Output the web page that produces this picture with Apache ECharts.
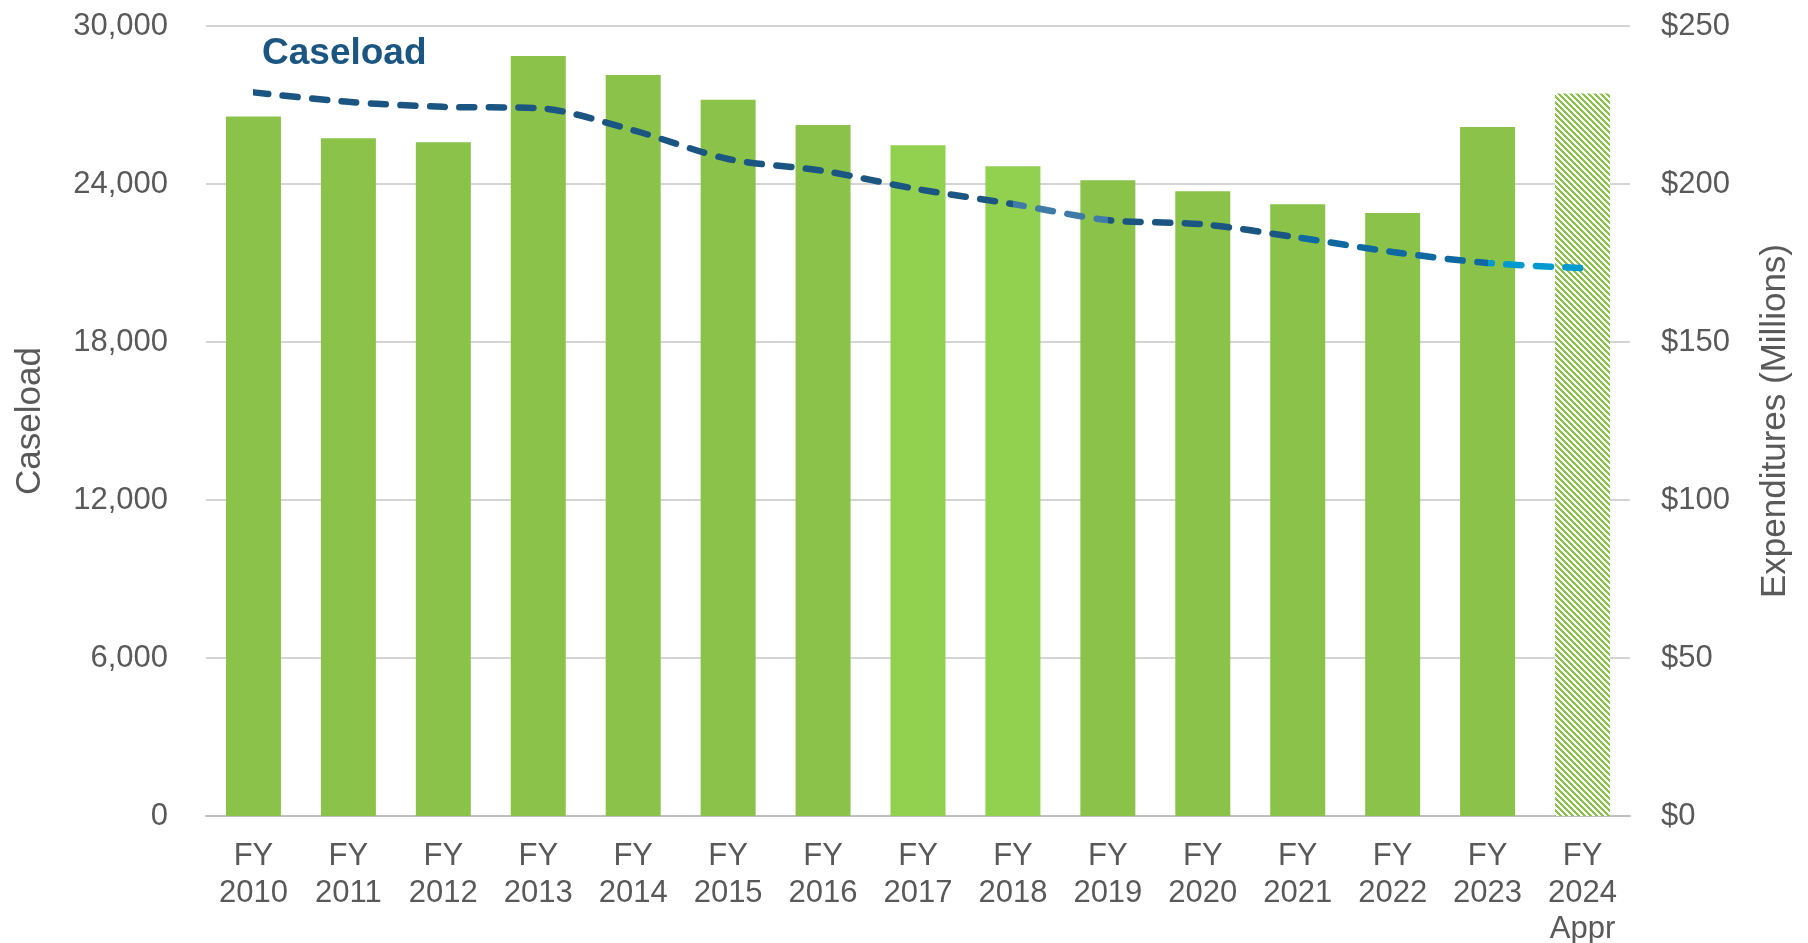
<!DOCTYPE html>
<html>
<head>
<meta charset="utf-8">
<script src="https://cdn.jsdelivr.net/npm/echarts@6/dist/echarts.min.js"></script>
<style>
  html, body { margin: 0; padding: 0; background: #fff; }
  #chart { width: 1808px; height: 943px; }
</style>
</head>
<body>
<div id="chart"></div>
<script>
var years = ['FY\n2010', 'FY\n2011', 'FY\n2012', 'FY\n2013', 'FY\n2014', 'FY\n2015', 'FY\n2016',
  'FY\n2017', 'FY\n2018', 'FY\n2019', 'FY\n2020', 'FY\n2021', 'FY\n2022', 'FY\n2023', 'FY\n2024\nAppr'];
// expenditures, $ millions (right axis)
var expenditures = [221.4, 214.5, 213.2, 240.5, 234.5, 226.7, 218.7, 212.3, 205.6, 201.2, 197.7, 193.6, 190.8, 218.0, 228.6];
// caseload (left axis)
var caseload = [27480, 27120, 26930, 26880, 26040, 24950, 24500, 23800, 23240, 22630, 22470, 21970, 21420, 21000, 20810];
var caseTicks = [0, 6000, 12000, 18000, 24000, 30000];
var costTicks = [0, 50, 100, 150, 200, 250];

var GREEN = '#8bc34a';
var GREEN_LIGHT = '#92d050';
var brightBars = [7, 8];
var apprIndex = 14;
var textColor = '#595959';
var font = 'Liberation Sans, Arial, sans-serif';

// hatch for the appropriated year
var makeHatch = function () {
    var c = document.createElement('canvas');
    c.width = 6; c.height = 6;
    var ctx = c.getContext('2d');
    ctx.fillStyle = '#fff';
    ctx.fillRect(0, 0, 6, 6);
    ctx.fillStyle = GREEN;
    for (var y = 0; y < 6; y++) {
        for (var x = 0; x < 6; x++) {
            if (((x - y) % 6 + 6) % 6 < 3) ctx.fillRect(x, y, 1, 1);
        }
    }
    return c;
};
var hatch = makeHatch();

var barData = expenditures.map(function (v, i) {
    var color = GREEN;
    if (brightBars.indexOf(i) >= 0) color = GREEN_LIGHT;
    if (i === apprIndex) color = { image: hatch, repeat: 'repeat' };
    return { value: v, itemStyle: { color: color } };
});

var chart = echarts.init(document.getElementById('chart'));
var option = {
    animation: false,
    title: {
        text: 'Caseload',
        left: 262,
        top: 35,
        padding: 0,
        textStyle: { fontFamily: font, fontSize: 37, fontWeight: 'bold', color: '#1b5581' }
    },
    grid: { left: 206, right: 178, top: 26, bottom: 127, containLabel: false, outerBoundsMode: 'none' },
    xAxis: {
        type: 'category',
        data: years,
        axisTick: { show: false },
        axisLine: { lineStyle: { color: '#bfbfbf', width: 2 } },
        axisLabel: {
            interval: 0,
            margin: 22,
            color: textColor,
            fontFamily: font,
            fontSize: 31,
            lineHeight: 36.7
        }
    },
    yAxis: [{
        type: 'value',
        min: caseTicks[0],
        max: caseTicks[caseTicks.length - 1],
        interval: caseTicks[1] - caseTicks[0],
        name: 'Caseload',
        nameLocation: 'middle',
        nameRotate: 90,
        nameGap: 158,
        nameTextStyle: { color: textColor, fontFamily: font, fontSize: 35 },
        axisLine: { show: false },
        axisTick: { show: false },
        axisLabel: {
            margin: 38,
            color: textColor,
            fontFamily: font,
            fontSize: 31,
            formatter: function (v) { return echarts.format.addCommas(v); }
        },
        splitLine: { lineStyle: { color: '#d4d4d4', width: 2 } }
    }, {
        type: 'value',
        min: costTicks[0],
        max: costTicks[costTicks.length - 1],
        interval: costTicks[1] - costTicks[0],
        name: 'Expenditures (Millions)',
        nameLocation: 'middle',
        nameRotate: 90,
        nameGap: 128,
        nameTextStyle: { color: textColor, fontFamily: font, fontSize: 35 },
        axisLine: { show: false },
        axisTick: { show: false },
        axisLabel: {
            margin: 31,
            color: textColor,
            fontFamily: font,
            fontSize: 31,
            formatter: function (v) { return '$' + v; }
        },
        splitLine: { show: false }
    }],
    visualMap: {
        show: false,
        type: 'piecewise',
        seriesIndex: 1,
        dimension: 0,
        pieces: [
            { gte: 0, lt: 8, color: '#1b5581' },
            { gte: 8, lt: 9, color: '#3f7ba6' },
            { gte: 9, lt: 11.4, color: '#1b5581' },
            { gte: 11.4, lt: 13, color: '#0f68a0' },
            { gte: 13, lte: 14, color: '#0099d0' }
        ]
    },
    series: [{
        name: 'Expenditures',
        type: 'bar',
        yAxisIndex: 1,
        barWidth: 55,
        data: barData
    }, {
        name: 'Caseload',
        type: 'line',
        yAxisIndex: 0,
        z: 5,
        smooth: 0.3,
        symbol: 'none',
        lineStyle: { width: 6.5, type: [15, 14.5], cap: 'round' },
        data: caseload
    }]
};
chart.setOption(option);
</script>
</body>
</html>
